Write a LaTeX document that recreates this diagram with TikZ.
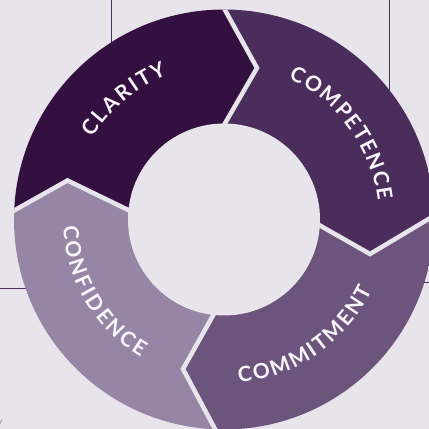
\documentclass[tikz,border=0pt]{standalone}
\usepackage{fontspec}
\newfontfamily\ringfont{Lato}
\usetikzlibrary{calc,decorations.text}
\definecolor{bgcol}{HTML}{E8E4EC}
\definecolor{clarcol}{HTML}{33103F}
\definecolor{compcol}{HTML}{4B2D5B}
\definecolor{commcol}{HTML}{6D547D}
\definecolor{confcol}{HTML}{9685A5}
\definecolor{gridcol}{HTML}{4B2D5B}
\definecolor{txtcol}{HTML}{FAF7FC}
\begin{document}
\begin{tikzpicture}[x=1pt,y=1pt,
  gap/.style={draw=bgcol, line width=4.5pt, line join=miter, miter limit=10},
  gridline/.style={draw=gridcol, line width=1pt},
  ringlabel/.style={decorate, font=\ringfont\bfseries\fontsize{21}{21}\selectfont,
     decoration={text along path, text align={fit to path}, text color=txtcol,
     text={|\ringfont\bfseries\fontsize{21}{21}\selectfont|#1}}}
]
\useasboundingbox (0,0) rectangle (429,429);
\fill[bgcol] (0,0) rectangle (429,429);
\coordinate (C) at (224,209.5);
% background grid lines
\coordinate (v1a) at (111,429); \coordinate (v1b) at (111,330);
\coordinate (v2a) at (389,429); \coordinate (v2b) at (389,300);
\coordinate (h1a) at (0,140);   \coordinate (h1b) at (60,140);
\coordinate (h2a) at (400,146); \coordinate (h2b) at (429,146);
\draw[gridline] (v1a) -- (v1b);
\draw[gridline] (v2a) -- (v2b);
\draw[gridline] (h1a) -- (h1b);
\draw[gridline] (h2a) -- (h2b);
% boundary points
\coordinate (O1) at (225,419);   \coordinate (T1) at (257,361);   \coordinate (I1) at (225,305.7);
\coordinate (O2) at (434,213.2); \coordinate (T2) at (370,175);   \coordinate (I2) at (319.8,203.6);
\coordinate (O3) at (215,0);     \coordinate (T3) at (183,60);    \coordinate (I3) at (213.3,114);
\coordinate (O4) at (15,219);    \coordinate (T4) at (67.5,248.5);\coordinate (I4) at (128.3,219);
\foreach \k in {1,2,3,4}{
  \coordinate (O\k x) at ($(T\k)!2.5!(O\k)$);
  \coordinate (I\k x) at ($(T\k)!1.4!(I\k)$);
}
\coordinate (F12) at ($(C)+(45:450)$);
\coordinate (F23) at ($(C)+(-45:450)$);
\coordinate (F34) at ($(C)+(-135:450)$);
\coordinate (F41) at ($(C)+(135:450)$);
\begin{scope}
  \clip (C) circle (210);
  \fill[clarcol] (C) -- (I4x) -- (T4) -- (O4x) -- (F41) -- (O1x) -- (T1) -- (I1x) -- cycle;
  \fill[compcol] (C) -- (I1x) -- (T1) -- (O1x) -- (F12) -- (O2x) -- (T2) -- (I2x) -- cycle;
  \fill[commcol] (C) -- (I2x) -- (T2) -- (O2x) -- (F23) -- (O3x) -- (T3) -- (I3x) -- cycle;
  \fill[confcol] (C) -- (I3x) -- (T3) -- (O3x) -- (F34) -- (O4x) -- (T4) -- (I4x) -- cycle;
  \draw[gap] (O1x) -- (T1) -- (I1x);
  \draw[gap] (O2x) -- (T2) -- (I2x);
  \draw[gap] (O3x) -- (T3) -- (I3x);
  \draw[gap] (O4x) -- (T4) -- (I4x);
\end{scope}
\fill[bgcol] (C) circle (96);
% labels
\path[ringlabel=CLARITY] ($(C)+(148:155)$) arc[start angle=148, end angle=111.5, radius=155];
\path[ringlabel=COMPETENCE] ($(C)+(65.5:155)$) arc[start angle=65.5, end angle=7, radius=155];
\path[ringlabel=COMMITMENT] ($(C)+(-84.8:164)$) arc[start angle=-84.8, end angle=-25.6, radius=164];
\path[ringlabel=CONFIDENCE] ($(C)+(182.4:161)$) arc[start angle=182.4, end angle=238.9, radius=161];
\node[font=\fontsize{7}{7}\selectfont, text=black!70, inner sep=0pt] (frag) at (0.5,6) {y};
\end{tikzpicture}
\end{document}
